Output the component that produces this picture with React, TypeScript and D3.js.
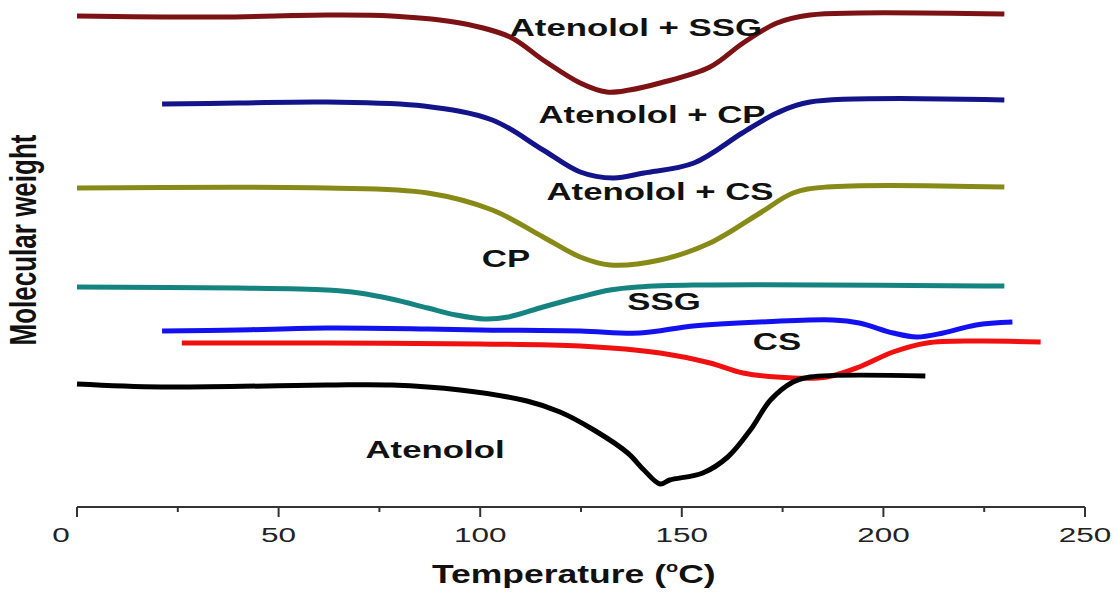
import React from "react";
import * as d3 from "d3";

// Temperature (°C) vs signal (arbitrary units, pixel-derived offsets)
const atenololSSG: [number, number][] = [
  [0, 49.1], [35, 49.0], [62, 49.2], [78, 49.1], [95, 48.4], [107.4, 47.0], [115.6, 44.7],
  [124.8, 42.4], [131.4, 41.5], [137, 41.7], [144.6, 42.4], [157, 44.0], [165.2, 46.4],
  [173.6, 48.4], [181.8, 49.2], [194, 49.4], [230, 49.3],
];
const atenololCP: [number, number][] = [
  [21.1, 40.3], [40, 40.4], [62, 40.5], [86, 40.1], [103, 38.7], [115.6, 35.7], [124.8, 33.5],
  [133, 32.9], [140.6, 33.4], [153, 34.4], [165, 37.4], [173.6, 39.4], [181.8, 40.5], [230, 40.7],
];
const atenololCS: [number, number][] = [
  [0, 31.9], [62, 31.9], [87, 31.4], [103, 29.7], [115.6, 27.0], [124.8, 25.0], [132.2, 24.2],
  [144.6, 24.7], [157, 26.4], [169.4, 29.4], [177.6, 31.4], [186, 32.0], [230, 32.0],
];
const ssg: [number, number][] = [
  [0, 22.0], [40, 21.9], [62, 21.7], [70, 21.4], [78, 20.8], [87, 19.9], [94, 19.2],
  [101, 18.8], [107, 19.0], [115.6, 20.0], [124.8, 21.0], [132.2, 21.7], [139, 22.0],
  [153, 22.2], [230, 22.1],
];
const cs: [number, number][] = [
  [21.1, 17.6], [40, 17.7], [62, 17.9], [87, 17.8], [100, 17.7], [124.8, 17.6], [139.6, 17.4],
  [152.8, 18.1], [169.4, 18.5], [187.5, 18.7], [194, 18.4], [202.4, 17.4], [208.3, 17.0],
  [214.8, 17.4], [223, 18.2], [232, 18.5],
];
const cp: [number, number][] = [
  [26, 16.4], [62, 16.4], [100, 16.3], [124.8, 16.1], [144.6, 15.4], [157, 14.4], [165.2, 13.4],
  [177.6, 12.9], [186, 13.0], [194, 14.0], [202.4, 15.5], [210.8, 16.4], [223, 16.6], [239, 16.5],
];
const atenolol: [number, number][] = [
  [0, 12.3], [21, 12.0], [62, 12.2], [78, 12.2], [95, 11.7], [111.6, 10.6], [119.8, 9.5],
  [128.2, 7.7], [136.6, 5.4], [140.6, 3.7], [144.6, 2.3], [147, 2.7], [155.2, 3.4], [161.4, 5.0],
  [167, 7.7], [172, 10.7], [177.6, 12.5], [181.8, 13.0], [210.4, 13.1],
];

const seriesNames = ["Atenolol + SSG", "Atenolol + CP", "Atenolol + CS", "SSG", "CS", "CP", "Atenolol"];
const seriesColors = ["#7d1214", "#14148a", "#878a17", "#158481", "#1212f0", "#f01010", "#000000"];
const seriesData = [atenololSSG, atenololCP, atenololCS, ssg, cs, cp, atenolol];

// labels: text, temperature (centre), signal (baseline)
const labelTexts = ["Atenolol + SSG", "Atenolol + CP", "Atenolol + CS", "CP", "SSG", "CS", "Atenolol"];
const labelX = [138.6, 142.6, 144.6, 106.4, 145.6, 173.6, 88.8];
const labelY = [47.1, 38.4, 30.7, 24.0, 19.7, 15.7, 4.9];

const xTicksMajor = [0, 50, 100, 150, 200, 250];
const xTicksMinor = [25, 75, 125, 175, 225];

const FONT = "Liberation Sans, Arial, Helvetica, sans-serif";
const SX = 1.45; // horizontal stretch of the original figure

export default function App() {
  const W = 1118, H = 592;
  const x = d3.scaleLinear().domain([0, 250]).range([77, 1085]);
  const y = d3.scaleLinear().domain([0, 50]).range([507, 7]);
  const line = d3.line<[number, number]>()
    .x((d) => x(d[0]))
    .y((d) => y(d[1]))
    .curve(d3.curveCatmullRom.alpha(0.5));
  const axisY = 507;
  return (
    <svg width={W} height={H} style={{ position: "absolute", left: 0, top: 0, background: "#fff" }}>
      {seriesData.map((d, i) => (
        <path key={seriesNames[i]} d={line(d) || ""} fill="none" stroke={seriesColors[i]}
          strokeWidth={5} strokeLinejoin="round" strokeLinecap="butt" />
      ))}
      {labelTexts.map((t, i) => (
        <text key={t} transform={`translate(${x(labelX[i])},${y(labelY[i])}) scale(${SX},1)`} textAnchor="middle"
          fontFamily={FONT} fontWeight="bold" fontSize={24} fill="#111">
          {t}
        </text>
      ))}
      <line x1={x(0)} x2={x(250)} y1={axisY} y2={axisY} stroke="#333" strokeWidth={2} />
      {xTicksMajor.map((t) => (
        <g key={"M" + t}>
          <line x1={x(t)} x2={x(t)} y1={axisY} y2={axisY + 10} stroke="#333" strokeWidth={2} />
          <text transform={`translate(${x(t) + (t === 0 ? -16 : 0)},542) scale(1.5,1)`} textAnchor="middle"
            fontFamily={FONT} fontSize={21} fill="#222">{t}</text>
        </g>
      ))}
      {xTicksMinor.map((t) => (
        <line key={"m" + t} x1={x(t)} x2={x(t)} y1={axisY} y2={axisY + 5} stroke="#333" strokeWidth={2} />
      ))}
      <text transform="translate(432,583) scale(1.42,1)" textAnchor="start" fontFamily={FONT}
        fontWeight="bold" fontSize={25} fill="#111">
        Temperature (<tspan dy={-11} fontSize={14}>o</tspan><tspan dy={11}>C)</tspan>
      </text>
      <text transform="translate(36,240) scale(1.45,1) rotate(-90)" textAnchor="middle"
        fontFamily={FONT} fontWeight="bold" fontSize={26} fill="#111">
        Molecular weight
      </text>
    </svg>
  );
}
